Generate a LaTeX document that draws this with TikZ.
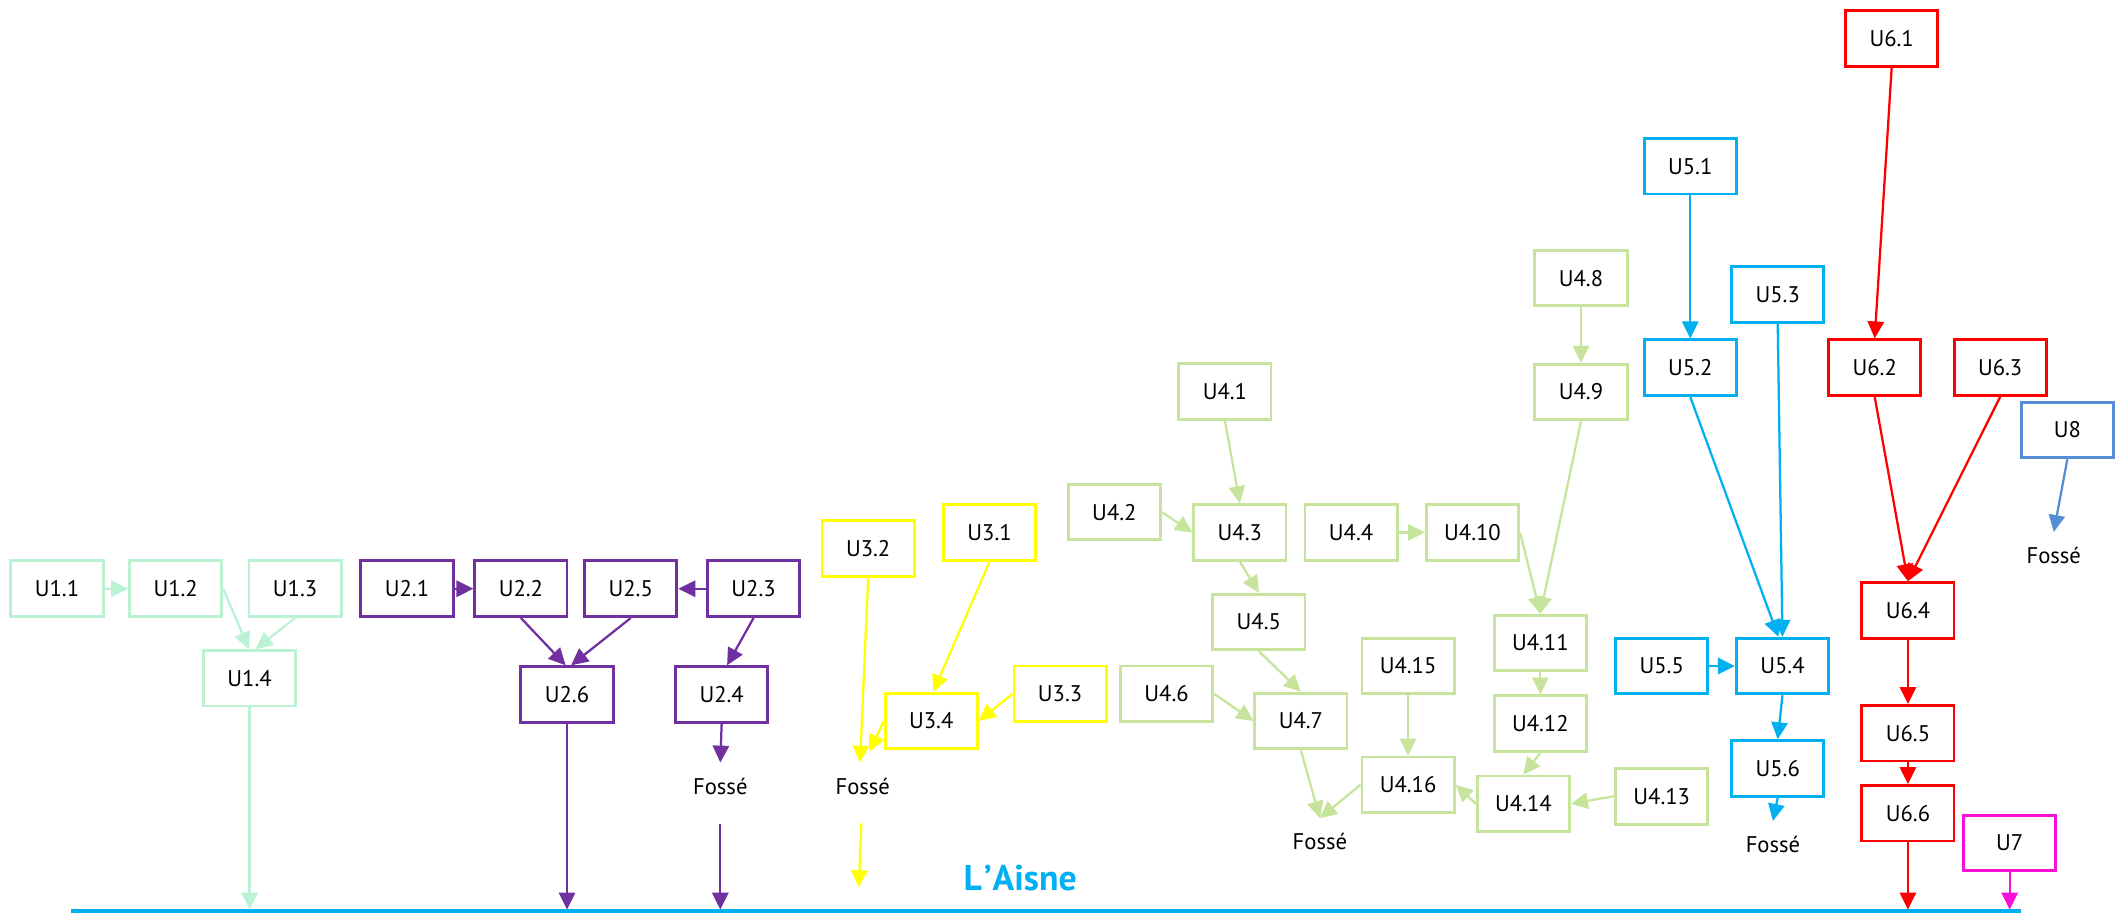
\documentclass[tikz,border=0pt]{standalone}
\usepackage{fontspec}
\setmainfont{PT Sans}
\usetikzlibrary{arrows.meta,calc}

% unit colours
\definecolor{cMint}{RGB}{188,242,212}
\definecolor{cPurple}{RGB}{112,48,160}
\definecolor{cYellow}{RGB}{255,255,0}
\definecolor{cGreen}{RGB}{198,228,156}
\definecolor{cCyan}{RGB}{0,176,240}
\definecolor{cRed}{RGB}{255,0,0}
\definecolor{cSteel}{RGB}{85,142,213}
\definecolor{cMagenta}{RGB}{250,15,215}

\begin{document}
\begin{tikzpicture}[x=0.02cm,y=-0.02cm,
  ubox/.style={draw=#1, line width=1.2pt, fill=white, minimum width=1.36cm,
    minimum height=0.82cm, inner sep=0pt, font=\fontsize{9.5}{11}\selectfont},
  flow/.style={draw=#1, line width=0.95pt, -{Triangle[length=0.25cm,width=0.24cm]}},
  fosse/.style={inner xsep=0pt, inner ysep=0.24cm, text height=0.22cm,
    text depth=0pt, font=\fontsize{9.5}{11}\selectfont},
  river/.style={draw=cCyan, line width=1.5pt},
]
\useasboundingbox (0,0) rectangle (1568,674.5);

% ---------- river ----------
\coordinate (rivL) at (52.6,671.6);
\coordinate (rivR) at (1490,671.6);
\draw[river] (rivL) -- (rivR);
\node[text=cCyan, font=\fontsize{15}{17}\selectfont\bfseries] (aisne) at (752,647) {L\kern0.06em’\kern0.02emAisne};

% ---------- unit 1 ----------
\node[ubox=cMint] (u11) at (42,434) {U1.1};
\node[ubox=cMint] (u12) at (129.5,434) {U1.2};
\node[ubox=cMint] (u13) at (217.5,434) {U1.3};
\node[ubox=cMint] (u14) at (184,500) {U1.4};

% ---------- unit 2 ----------
\node[ubox=cPurple] (u21) at (300,434) {U2.1};
\node[ubox=cPurple] (u22) at (384,434) {U2.2};
\node[ubox=cPurple] (u25) at (465,434) {U2.5};
\node[ubox=cPurple] (u23) at (555.5,434) {U2.3};
\node[ubox=cPurple] (u26) at (418,512) {U2.6};
\node[ubox=cPurple] (u24) at (532,512) {U2.4};
\node[fosse] (f2) at (531,580) {Fossé};

% ---------- unit 3 ----------
\node[ubox=cYellow] (u32) at (640,404.5) {U3.2};
\node[ubox=cYellow] (u31) at (729.5,392.5) {U3.1};
\node[ubox=cYellow] (u34) at (686.5,531.5) {U3.4};
\node[ubox=cYellow] (u33) at (781.5,511.5) {U3.3};
\node[fosse] (f3) at (636,580) {Fossé};

% ---------- unit 4 ----------
\node[ubox=cGreen] (u41) at (903,288.5) {U4.1};
\node[ubox=cGreen] (u42) at (821.5,377.5) {U4.2};
\node[ubox=cGreen] (u43) at (914,392.5) {U4.3};
\node[ubox=cGreen] (u44) at (996,392.5) {U4.4};
\node[ubox=cGreen] (u410) at (1085.5,392.5) {U4.10};
\node[ubox=cGreen] (u45) at (928,458.5) {U4.5};
\node[ubox=cGreen] (u46) at (860,511.5) {U4.6};
\node[ubox=cGreen] (u47) at (959,531.5) {U4.7};
\node[ubox=cGreen] (u48) at (1165.5,205) {U4.8};
\node[ubox=cGreen] (u49) at (1165.5,289) {U4.9};
\node[ubox=cGreen] (u411) at (1135.5,474) {U4.11};
\node[ubox=cGreen] (u412) at (1135.5,533.5) {U4.12};
\node[ubox=cGreen] (u415) at (1038,491) {U4.15};
\node[ubox=cGreen] (u416) at (1038,578.5) {U4.16};
\node[ubox=cGreen] (u414) at (1123,592.5) {U4.14};
\node[ubox=cGreen] (u413) at (1225,587) {U4.13};
\node[fosse] (f4) at (973,621) {Fossé};

% ---------- unit 5 ----------
\node[ubox=cCyan] (u51) at (1246,122.5) {U5.1};
\node[ubox=cCyan] (u53) at (1310.5,217) {U5.3};
\node[ubox=cCyan] (u52) at (1246,271) {U5.2};
\node[ubox=cCyan] (u55) at (1225,491) {U5.5};
\node[ubox=cCyan] (u54) at (1314,491) {U5.4};
\node[ubox=cCyan] (u56) at (1310.5,566.5) {U5.6};
\node[fosse] (f5) at (1307,623) {Fossé};

% ---------- unit 6 ----------
\node[ubox=cRed] (u61) at (1394.5,28.5) {U6.1};
\node[ubox=cRed] (u62) at (1382,271) {U6.2};
\node[ubox=cRed] (u63) at (1474.5,271) {U6.3};
\node[ubox=cRed] (u64) at (1406.5,450) {U6.4};
\node[ubox=cRed] (u65) at (1406.5,540.5) {U6.5};
\node[ubox=cRed] (u66) at (1406.5,599.5) {U6.6};

% ---------- units 7 and 8 ----------
\node[ubox=cSteel] (u8) at (1524,317) {U8};
\node[fosse] (f8) at (1514,410) {Fossé};
\node[ubox=cMagenta] (u7) at (1481.5,621.5) {U7};

% ---------- flows, unit 1 ----------
\draw[flow=cMint] (u11.east) -- (u12.west);
\draw[flow=cMint] (u12.east) -- ($(u14.north)+(-0.5,0)$);
\draw[flow=cMint] (u13.south) -- ($(u14.north)+(4.5,0)$);
\draw[flow=cMint, shorten >=0.6pt] (u14.south) -- (u14.south |- rivL);

% ---------- flows, unit 2 ----------
\draw[flow=cPurple] (u21.east) -- (u22.west);
\draw[flow=cPurple] (u23.west) -- (u25.east);
\draw[flow=cPurple] (u22.south) -- ($(u26.north)+(-1,0)$);
\draw[flow=cPurple] (u25.south) -- ($(u26.north)+(3,0)$);
\draw[flow=cPurple] (u23.south) -- ($(u24.north)+(4,0)$);
\draw[flow=cPurple] (u24.south) -- (f2.north);
\draw[flow=cPurple, shorten >=0.6pt] ($(f2.south)+(0,9.5)$) -- (f2.south |- rivL);
\draw[flow=cPurple, shorten >=0.6pt] (u26.south) -- (u26.south |- rivL);

% ---------- flows, unit 3 ----------
\draw[flow=cYellow] (u32.south) -- ($(f3.north)+(-2,0)$);
\draw[flow=cYellow] (u34.west) -- ($(f3.north)+(5,-8)$);
\draw[flow=cYellow] (u31.south) -- ($(u34.north)+(1.5,0)$);
\draw[flow=cYellow] (u33.west) -- (u34.east);
\coordinate (y3s) at (635,607);
\coordinate (y3e) at (633,654);
\draw[flow=cYellow] (y3s) -- (y3e);

% ---------- flows, unit 4 ----------
\draw[flow=cGreen] (u41.south) -- (u43.north);
\draw[flow=cGreen] (u42.east) -- (u43.west);
\draw[flow=cGreen] (u43.south) -- (u45.north);
\draw[flow=cGreen] (u45.south) -- (u47.north);
\draw[flow=cGreen] (u46.east) -- (u47.west);
\draw[flow=cGreen] (u47.south) -- (f4.north);
\draw[flow=cGreen] (u416.west) -- (f4.north);
\draw[flow=cGreen] (u44.east) -- (u410.west);
\draw[flow=cGreen] (u410.east) -- (u411.north);
\draw[flow=cGreen] (u48.south) -- (u49.north);
\draw[flow=cGreen] (u49.south) -- (u411.north);
\draw[flow=cGreen] (u411.south) -- (u412.north);
\draw[flow=cGreen] (u412.south) -- (u414.north);
\draw[flow=cGreen] (u413.west) -- (u414.east);
\draw[flow=cGreen] (u414.west) -- (u416.east);
\draw[flow=cGreen] (u415.south) -- (u416.north);

% ---------- flows, unit 5 ----------
\draw[flow=cCyan] (u51.south) -- (u52.north);
\draw[flow=cCyan] (u52.south) -- ($(u54.north)+(-3,0)$);
\draw[flow=cCyan] (u53.south) -- (u54.north);
\draw[flow=cCyan] (u55.east) -- (u54.west);
\draw[flow=cCyan] (u54.south) -- (u56.north);
\draw[flow=cCyan] (u56.south) -- (f5.north);

% ---------- flows, unit 6 ----------
\draw[flow=cRed] (u61.south) -- (u62.north);
\draw[flow=cRed] (u62.south) -- (u64.north);
\draw[flow=cRed] (u63.south) -- (u64.north);
\draw[flow=cRed] (u64.south) -- (u65.north);
\draw[flow=cRed] (u65.south) -- (u66.north);
\draw[flow=cRed, shorten >=0.6pt] (u66.south) -- (u66.south |- rivL);

% ---------- flows, units 7 and 8 ----------
\draw[flow=cSteel] (u8.south) -- (f8.north);
\draw[flow=cMagenta, shorten >=0.6pt] (u7.south) -- (u7.south |- rivL);
\end{tikzpicture}
\end{document}
